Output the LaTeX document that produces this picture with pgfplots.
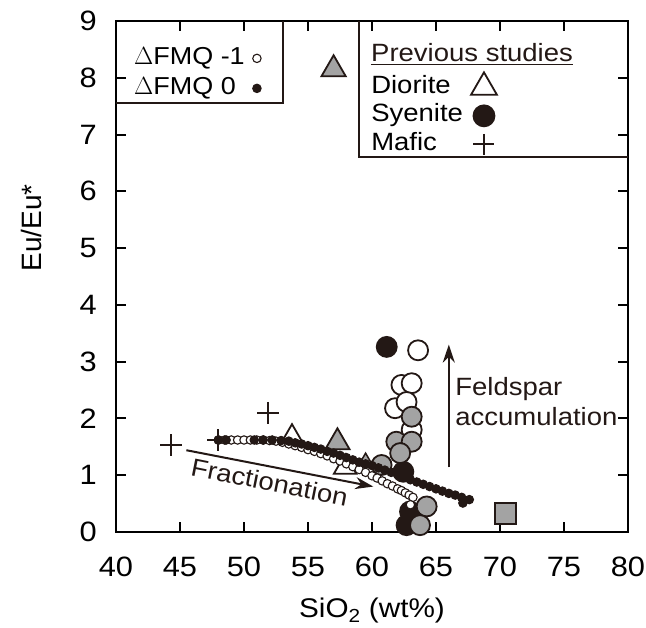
\documentclass[border=0pt]{standalone}
\usepackage{pgfplots}
\pgfplotsset{compat=1.18}
\usepackage{pgfplotstable}
\usepackage{fontspec}
\setmainfont{Liberation Sans}
\newfontfamily\wide{Liberation Sans}[FakeStretch=1.1]
\usetikzlibrary{arrows.meta}
\definecolor{dk}{HTML}{231815}
\definecolor{gr}{HTML}{A3A3A3}

% Model curve, Delta FMQ -1 (open small circles)
\pgfplotstableread{
x y
48.0 1.62
48.5 1.62
49.0 1.62
49.5 1.62
50.0 1.62
50.5 1.62
51.0 1.62
51.5 1.62
52.0 1.61
52.5 1.60
53.0 1.58
53.5 1.55
54.0 1.52
54.5 1.49
55.0 1.45
55.5 1.42
56.0 1.38
56.5 1.34
57.0 1.29
57.5 1.25
58.0 1.20
58.5 1.15
59.0 1.10
59.5 1.05
60.0 0.99
60.4 0.95
60.8 0.90
61.2 0.85
61.6 0.81
62.0 0.76
62.3 0.73
62.6 0.69
62.9 0.65
63.2 0.61
63.0 0.48
}\fmqmone

% Model curve, Delta FMQ 0 (filled small circles)
\pgfplotstableread{
x y
48.0 1.62
48.6 1.62
50.8 1.62
51.5 1.62
52.2 1.62
52.9 1.61
53.5 1.60
54.0 1.57
54.5 1.55
55.0 1.52
55.5 1.49
56.0 1.46
56.5 1.42
57.0 1.39
57.5 1.35
58.0 1.31
58.5 1.27
59.0 1.23
59.5 1.20
60.0 1.17
60.5 1.13
61.0 1.09
61.5 1.05
62.0 1.01
62.5 0.97
63.0 0.92
63.5 0.88
64.0 0.84
64.5 0.80
65.0 0.76
65.5 0.72
66.0 0.68
66.5 0.65
67.0 0.61
67.6 0.57
67.1 0.51
}\fmqzero

\begin{document}
\begin{tikzpicture}
\begin{axis}[
  scale only axis, width=512pt, height=511pt,
  xmin=40, xmax=80, ymin=0, ymax=9,
  xtick={40,45,...,80}, ytick={0,1,...,9},
  tick align=inside, major tick length=10pt,
  tick style={line width=2pt, black},
  axis line style={line width=2pt},
  /pgf/number format/assume math mode=true,
  ticklabel style={font=\wide\fontsize{28}{32}\selectfont, inner sep=0pt},
  xticklabel style={yshift=-25pt},
  yticklabel style={xshift=-19pt},
  xlabel={SiO\textsubscript{2} (wt\%)},
  ylabel={\fontsize{28}{32}\selectfont Eu/Eu*},
  xlabel style={font=\wide\fontsize{27}{30}\selectfont, at={(axis description cs:0.5,0)}, anchor=base, yshift=-86pt, inner sep=0pt},
  ylabel style={font=\fontsize{28}{32}\selectfont, at={(axis description cs:-0.146,0.595)}, anchor=base, inner sep=0pt},
  clip=false,
  legend style={draw=none, fill=none, at={(axis cs:41.25,8.574)}, anchor=north west,
    inner sep=0pt, font=\wide\fontsize{24.5}{28}\selectfont, row sep=4pt, column sep=6pt,
    nodes={text height=17pt, text depth=5pt, inner sep=2pt}},
  legend plot pos=right, legend cell align=left,
]
% legend boxes
\draw[line width=2pt, dk] (axis cs:40,7.553) -| (axis cs:53.05,9);
\draw[line width=2pt, dk] (axis cs:58.98,9) |- (axis cs:80,6.60);

% previous studies: open circles
\addplot[only marks, mark=*, mark size=10pt, mark options={fill=white, draw=dk, line width=1.8pt}, forget plot]
coordinates {(63.6,3.2) (62.3,2.59) (63.1,2.62) (61.8,2.18) (62.7,2.29) (63.1,1.80)};
% syenite (black)
\addplot[only marks, mark=*, mark size=10pt, mark options={fill=dk, draw=dk, line width=1.8pt}, forget plot]
coordinates {(61.15,3.26) (62.45,1.06) (62.97,0.36) (62.7,0.12)};
% grey circles
\addplot[only marks, mark=*, mark size=10pt, mark options={fill=gr, draw=dk, line width=1.8pt}, forget plot]
coordinates {(63.1,2.03) (61.9,1.59) (63.1,1.59) (62.2,1.39) (60.75,1.18) (64.27,0.45) (63.75,0.12)};
% diorite open triangles
\addplot[only marks, mark=triangle*, mark size=13pt, mark options={fill=white, draw=dk, line width=1.8pt}, forget plot]
coordinates {(53.75,1.67) (57.9,1.14)};
% grey triangles
\addplot[only marks, mark=triangle*, mark size=14pt, mark options={fill=gr, draw=dk, line width=1.8pt}, forget plot]
coordinates {(57.0,8.15) (57.3,1.58)};
\addplot[only marks, mark=triangle*, mark size=9pt, mark options={fill=gr, draw=dk, line width=1.5pt}, forget plot]
coordinates {(59.5,1.23)};
% mafic crosses
\addplot[only marks, mark=+, mark size=11pt, mark options={draw=dk, line width=2pt}, forget plot]
coordinates {(44.3,1.53) (48.0,1.62) (51.9,2.10)};
% grey square
\addplot[only marks, mark=square*, mark size=10.5pt, mark options={fill=gr, draw=dk, line width=1.8pt}, forget plot]
coordinates {(70.4,0.32)};

% model curves
\addplot[only marks, mark=*, mark size=4.2pt, mark options={fill=white, draw=dk, line width=1.1pt}] table {\fmqmone};
\addlegendentry{$\Delta$FMQ -1}
\addplot[only marks, mark=*, mark size=4.2pt, mark options={fill=dk, draw=dk, line width=1.1pt}] table {\fmqzero};
\addlegendentry{$\Delta$FMQ 0}

% annotations
\draw[line width=2pt, dk, -{Stealth[length=18pt, width=12pt]}] (axis cs:45.5,1.44) -- (axis cs:60.1,0.80);
\node[rotate=-11.3, font=\wide\fontsize{25}{28}\selectfont, text=dk] at (axis cs:52.0,0.88) {Fractionation};
\draw[line width=2pt, dk, -{Stealth[length=18pt, width=12pt]}] (axis cs:66,1.14) -- (axis cs:66,3.30);
\node[anchor=base west, inner sep=0pt, font=\wide\fontsize{25}{28}\selectfont, text=dk] at (axis cs:66.5,2.41) {Feldspar};
\node[anchor=base west, inner sep=0pt, font=\wide\fontsize{25}{28}\selectfont, text=dk] at (axis cs:66.5,1.87) {accumulation};
\node[anchor=base west, inner sep=0pt, font=\wide\fontsize{25}{28}\selectfont, text=dk] (ps) at (axis cs:59.92,8.292) {Previous studies};
\draw[line width=1.5pt, dk] ([yshift=-3.5pt]ps.base west) -- ([yshift=-3.5pt]ps.base east);
\end{axis}

\begin{axis}[
  hide axis, scale only axis, width=512pt, height=511pt,
  xmin=40, xmax=80, ymin=0, ymax=9,
  legend style={draw=none, fill=none, at={(axis cs:59.77,8.099)}, anchor=north west,
    inner sep=0pt, font=\wide\fontsize{25}{28}\selectfont, row sep=2.5pt, column sep=6pt,
    nodes={text height=17pt, text depth=5pt, inner sep=2pt}},
  legend plot pos=right, legend cell align=left,
]
\addlegendimage{only marks, mark=triangle*, mark size=15pt, mark options={fill=white, draw=dk, line width=1.8pt}}
\addlegendentry{Diorite}
\addlegendimage{only marks, mark=*, mark size=10.5pt, mark options={fill=dk, draw=dk, line width=1.8pt}}
\addlegendentry{Syenite}
\addlegendimage{only marks, mark=+, mark size=10.5pt, mark options={draw=dk, line width=2pt}}
\addlegendentry{Mafic}
\end{axis}
\pgfresetboundingbox
\path ([shift={(-116pt,-96pt)}]current axis.south west) rectangle ([shift={(18pt,21pt)}]current axis.north east);
\end{tikzpicture}
\end{document}
